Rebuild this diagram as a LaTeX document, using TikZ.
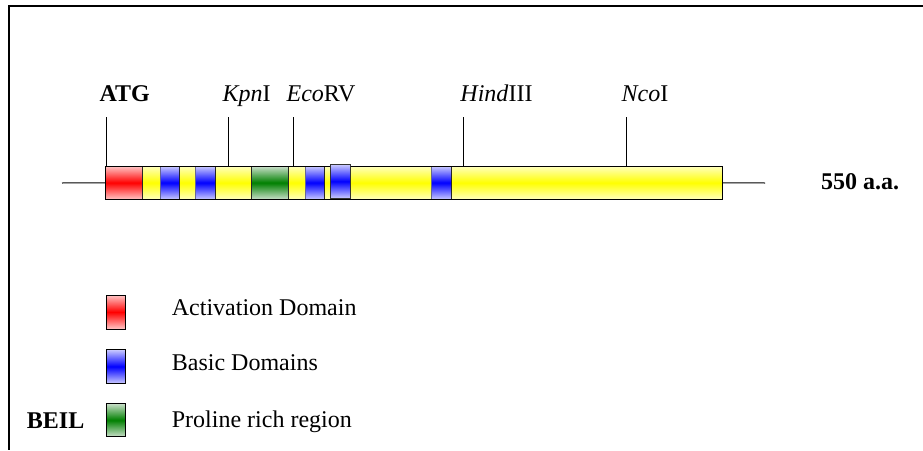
\documentclass[tikz,border=0pt]{standalone}
\usepackage{fontspec}
\setmainfont{Liberation Serif}
\begin{document}
\begin{tikzpicture}[x=1pt,y=-1pt,
  txt/.style={font=\fontsize{24}{28}\selectfont, inner sep=0pt, anchor=base},
  btxt/.style={txt, font=\fontsize{24}{28}\selectfont\bfseries},
  segbase/.style={rectangle, inner sep=0pt, outer sep=0pt, anchor=north west, minimum height=33.5pt, line width=1pt},
  redseg/.style={segbase, draw=black!85, top color=red!22, bottom color=red!22, middle color=red},
  yelseg/.style={segbase, draw=black!85, top color=yellow!25, bottom color=yellow!25, middle color=yellow},
  bluseg/.style={segbase, draw=black!70!blue!60, top color=blue!20, bottom color=blue!20, middle color=blue},
  greseg/.style={segbase, draw=black!85, top color=green!40!black!20, bottom color=green!40!black!20, middle color=green!50!black},
  tick/.style={line width=1pt, black},
  frame/.style={line width=2pt, black}
]
\useasboundingbox (0,0) rectangle (923,450);
% frame
\coordinate (fTR) at (923,6);
\coordinate (fTL) at (9,6);
\coordinate (fBL) at (9,450);
\draw[frame] (fTR) -- (fTL) -- (fBL);

% whole bar outline
\node[segbase, minimum width=616.3pt, draw=black] (bar) at (105.7,166) {};
\coordinate (lend) at (62,183);
\coordinate (rend) at (765,183);
\draw[tick] (lend) -- (bar.west);
\draw[tick] (bar.east) -- (rend);

% segments
\node[redseg, minimum width=37pt]   (s1)  at (105.7,166) {};
\node[yelseg, minimum width=17.3pt] (s2)  at (142.7,166) {};
\node[bluseg, minimum width=19.3pt] (s3)  at (160,166) {};
\node[yelseg, minimum width=16.4pt] (s4)  at (179.3,166) {};
\node[bluseg, minimum width=19.3pt] (s5)  at (195.7,166) {};
\node[yelseg, minimum width=36pt]   (s6)  at (215,166) {};
\node[greseg, minimum width=37.3pt] (s7)  at (251,166) {};
\node[yelseg, minimum width=16.7pt] (s8)  at (288.3,166) {};
\node[bluseg, minimum width=19.3pt] (s9)  at (305,166) {};
\node[yelseg, minimum width=5.7pt]  (s10) at (324.3,166) {};
\node[yelseg, minimum width=81pt]   (s12) at (350,166) {};
\node[bluseg, minimum width=20pt]   (s13) at (431,166) {};
\node[yelseg, minimum width=271pt]  (s14) at (451,166) {};
\draw[line width=1pt, black] (bar.north west) rectangle (bar.south east);
\node[bluseg, minimum width=20pt, minimum height=34pt, draw=black!80] (s11) at (330,164.3) {};

% site ticks
\coordinate (tATG) at (106.7,117);
\coordinate (tKpn) at (228,117);
\coordinate (tEco) at (293.3,117);
\coordinate (tHind) at (463.7,117);
\coordinate (tNco) at (626,117);
\draw[tick] (tATG) -- (tATG |- bar.north);
\draw[tick] (tKpn) -- (tKpn |- bar.north);
\draw[tick] (tEco) -- (tEco |- bar.north);
\draw[tick] (tHind) -- (tHind |- bar.north);
\draw[tick] (tNco) -- (tNco |- bar.north);

% site labels
\node[btxt] (lATG) at (124.7,101) {ATG};
\node[txt] (lKpn) at (246.5,101) {\textit{Kpn}I};
\node[txt] (lEco) at (321,101) {\textit{Eco}RV};
\node[txt] (lHind) at (496.5,101) {\textit{Hind}III};
\node[txt] (lNco) at (645,101) {\textit{Nco}I};

\node[btxt, anchor=base west] (len) at (821,189) {550 a.a.};

% legend
\node[redseg, minimum width=19.7pt, minimum height=34pt, draw=black] (k1) at (106,295) {};
\node[bluseg, minimum width=19.7pt, minimum height=34pt, draw=black] (k2) at (106,349.5) {};
\node[greseg, minimum width=19.7pt, minimum height=33.5pt, draw=black] (k3) at (106,403.3) {};
\node[txt, anchor=base west] (t1) at (171.7,315) {Activation Domain};
\node[txt, anchor=base west] (t2) at (171.7,370.7) {Basic Domains};
\node[txt, anchor=base west] (t3) at (171.7,427) {Proline rich region};
\node[btxt, anchor=base west] (beil) at (26.7,428) {BEIL};
\end{tikzpicture}
\end{document}
